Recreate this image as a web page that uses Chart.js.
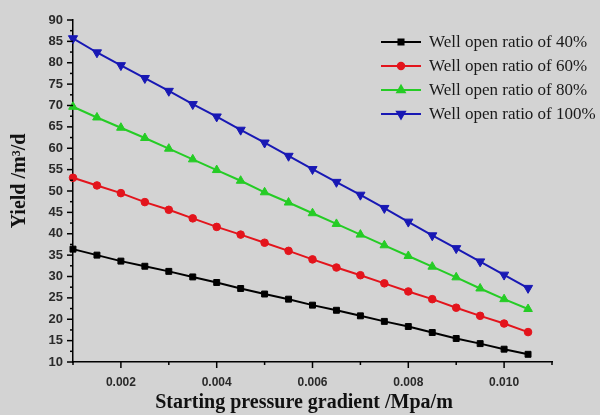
<!DOCTYPE html>
<html>
<head>
<meta charset="utf-8">
<title>Yield vs starting pressure gradient</title>
<script src="https://cdn.jsdelivr.net/npm/chart.js@4.4.0/dist/chart.umd.min.js"></script>
<style>
    body { margin: 0; background: #d3d3d3; }
    #wrap { width: 600px; height: 415px; }
</style>
</head>
<body>
<div id="wrap"><canvas id="yield-chart" width="600" height="415"></canvas></div>
<script>
    "use strict";

    // Data
    var gradient = [0.001, 0.0015, 0.002, 0.0025, 0.003, 0.0035, 0.004, 0.0045, 0.005, 0.0055,
                    0.006, 0.0065, 0.007, 0.0075, 0.008, 0.0085, 0.009, 0.0095, 0.010, 0.0105];
    var ratio40  = [36.4, 35.0, 33.6, 32.4, 31.2, 29.9, 28.6, 27.2, 25.9, 24.7,
                    23.3, 22.1, 20.8, 19.5, 18.3, 16.9, 15.5, 14.3, 13.0, 11.8];
    var ratio60  = [53.1, 51.3, 49.5, 47.4, 45.6, 43.6, 41.6, 39.8, 37.9, 36.0,
                    34.0, 32.1, 30.3, 28.4, 26.5, 24.7, 22.7, 20.8, 19.0, 17.0];
    var ratio80  = [69.7, 67.2, 64.8, 62.4, 59.9, 57.4, 54.9, 52.4, 49.7, 47.3,
                    44.8, 42.3, 39.8, 37.3, 34.8, 32.3, 29.8, 27.2, 24.7, 22.4];
    var ratio100 = [85.7, 82.4, 79.4, 76.4, 73.4, 70.3, 67.4, 64.3, 61.3, 58.2,
                    55.1, 52.1, 49.1, 46.0, 42.8, 39.6, 36.6, 33.5, 30.4, 27.3];
    var seriesLabels = ["Well open ratio of 40%", "Well open ratio of 60%",
                        "Well open ratio of 80%", "Well open ratio of 100%"];
    var xTitle = "Starting pressure gradient /Mpa/m";
    var yTitle = "Yield /m\u00b3/d";

    function pairs(ys) {
        return ys.map(function (y, i) { return {x: gradient[i], y: y}; });
    }

    function series(label, ys, color, style, radius, rotation) {
        return {
            label: label,
            data: pairs(ys),
            borderColor: color,
            backgroundColor: color,
            borderWidth: 2,
            pointStyle: style,
            pointRadius: radius,
            pointRotation: rotation || 0,
            pointBorderWidth: 1,
            tension: 0,
            clip: false
        };
    }

    // Ticks drawn by hand so minor ones can be shorter
    var axisTicks = {
        id: 'axisTicks',
        afterDraw: function (chart) {
            var ctx = chart.ctx;
            ctx.save();
            ctx.strokeStyle = '#000';
            ctx.lineWidth = 1.5;
            var xs = chart.scales.x, ys = chart.scales.y;
            xs.ticks.forEach(function (t) {
                var px = xs.getPixelForValue(t.value);
                var len = Math.round(t.value * 1000) % 2 === 0 ? 6 : 3;
                ctx.beginPath();
                ctx.moveTo(px, xs.top);
                ctx.lineTo(px, xs.top + len);
                ctx.stroke();
            });
            ys.ticks.forEach(function (t) {
                var py = ys.getPixelForValue(t.value);
                var len = t.value % 5 === 0 ? 6 : 3;
                ctx.beginPath();
                ctx.moveTo(ys.right, py);
                ctx.lineTo(ys.right - len, py);
                ctx.stroke();
            });
            ctx.restore();
        }
    };

    // Axis titles, placed where the original has them (a bit off-centre)
    var axisTitles = {
        id: 'axisTitles',
        afterDraw: function (chart) {
            var ctx = chart.ctx;
            ctx.save();
            ctx.fillStyle = '#111';
            ctx.font = "bold 20px 'Liberation Serif'";
            ctx.textAlign = 'center';
            ctx.textBaseline = 'middle';
            ctx.fillText(xTitle, 304, 403);
            ctx.translate(20, 181);
            ctx.rotate(-Math.PI / 2);
            ctx.fillText(yTitle, 0, 0);
            ctx.restore();
        }
    };

    // Legend inside the plot, line + marker like the original
    var innerLegend = {
        id: 'innerLegend',
        afterDraw: function (chart) {
            var ctx = chart.ctx;
            ctx.save();
            ctx.font = "17px 'Liberation Serif'";
            ctx.textBaseline = 'middle';
            chart.data.datasets.forEach(function (ds, i) {
                var y = 42 + i * 24;
                ctx.strokeStyle = ds.borderColor;
                ctx.lineWidth = 2;
                ctx.beginPath();
                ctx.moveTo(381, y);
                ctx.lineTo(421, y);
                ctx.stroke();
                ctx.fillStyle = ds.backgroundColor;
                Chart.helpers.drawPoint(ctx, {
                    pointStyle: ds.pointStyle,
                    radius: ds.pointRadius * 0.85,
                    rotation: ds.pointRotation,
                    borderWidth: 1
                }, 401, y);
                ctx.fillStyle = '#1a1a1a';
                ctx.fillText(ds.label, 429, y + 1);
            });
            ctx.restore();
        }
    };

    var ctx1 = document.getElementById('yield-chart').getContext('2d');
    var yieldChart = new Chart(ctx1, {
        type: 'line',
        data: {
            datasets: [
                series(seriesLabels[0], ratio40, '#000000', 'rect', 4.2),
                series(seriesLabels[1], ratio60, '#e3141c', 'circle', 3.8),
                series(seriesLabels[2], ratio80, '#25cc25', 'triangle', 5),
                series(seriesLabels[3], ratio100, '#1818b4', 'triangle', 5.3, 180)
            ]
        },
        options: {
            responsive: false,
            animation: false,
            devicePixelRatio: 1,
            layout: {padding: {left: 8, top: 20, right: 48, bottom: 0}},
            plugins: {
                legend: {display: false},
                tooltip: {enabled: false}
            },
            scales: {
                x: {
                    type: 'linear',
                    min: 0.001,
                    max: 0.011,
                    afterFit: function (scale) { scale.height = 53; },
                    border: {color: '#000', width: 1.5},
                    grid: {drawOnChartArea: false, drawTicks: false},
                    ticks: {
                        stepSize: 0.001,
                        padding: 13,
                        maxRotation: 0,
                        autoSkip: false,
                        color: '#2a2a2a',
                        font: {family: "'Liberation Sans'", size: 12, weight: 'bold'},
                        callback: function (value) {
                            var n = Math.round(value * 1000);
                            return n % 2 === 0 ? (n / 1000).toFixed(3) : '';
                        }
                    }
                },
                y: {
                    min: 10,
                    max: 90,
                    afterFit: function (scale) { scale.width = 65; },
                    border: {color: '#000', width: 1.5},
                    grid: {drawOnChartArea: false, drawTicks: false},
                    ticks: {
                        stepSize: 2.5,
                        padding: 10,
                        autoSkip: false,
                        color: '#2a2a2a',
                        font: {family: "'Liberation Sans'", size: 13, weight: 'bold'},
                        callback: function (value) {
                            return value % 5 === 0 ? value : '';
                        }
                    }
                }
            }
        },
        plugins: [axisTicks, axisTitles, innerLegend]
    });
</script>
</body>
</html>
